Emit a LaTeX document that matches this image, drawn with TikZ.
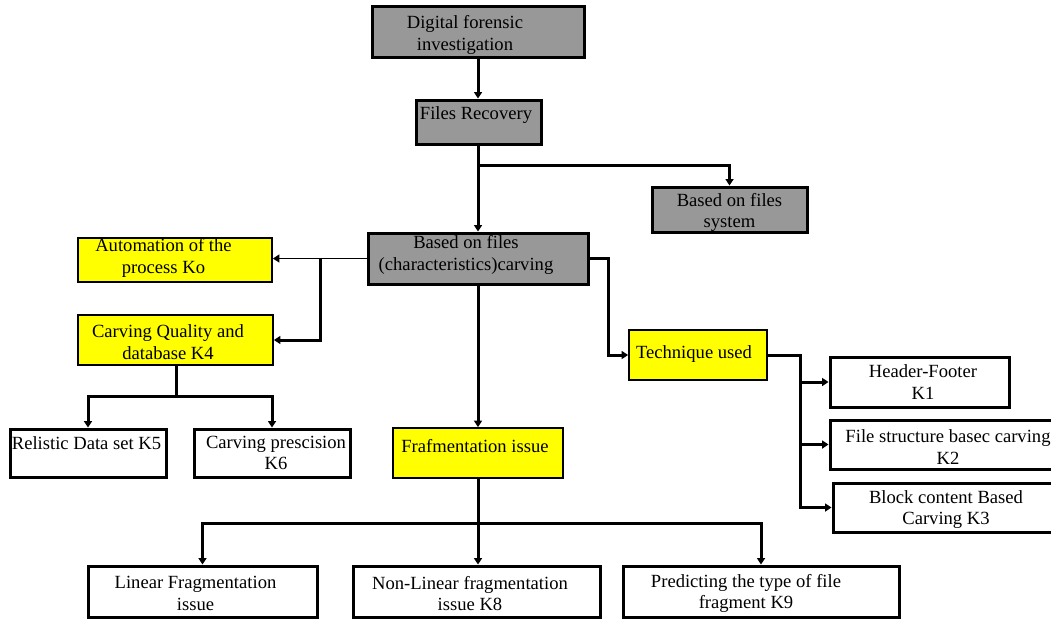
\documentclass[tikz,border=0pt]{standalone}
\usepackage{fontspec}
\setmainfont{Liberation Serif}
\usetikzlibrary{arrows.meta}
\definecolor{boxgray}{HTML}{989898}
\definecolor{boxyellow}{HTML}{FFFF00}
\begin{document}
\begin{tikzpicture}[x=1pt,y=-1pt,
  font=\fontsize{18.6}{21.5}\selectfont,
  base/.style={draw=black,rectangle,inner sep=0pt,anchor=center},
  graybox/.style={base,fill=boxgray,line width=3pt},
  yellowbox/.style={base,fill=boxyellow,line width=1.8pt},
  whitebox/.style={base,fill=white,line width=3pt},
  txt/.style={align=center,inner sep=0pt},
  conn/.style={line width=3pt},
  thinconn/.style={line width=1.8pt},
  arr/.style={-{Triangle[length=6.5pt,width=8pt]}},
]
\useasboundingbox (0,0) rectangle (1051,619);
\fill[white] (0,0) rectangle (1051,619);

% nodes
\node[graybox,minimum width=212pt,minimum height=51pt,
  label={[txt,name=dfi-t,xshift=-13pt,yshift=-3.5pt]center:{Digital forensic\\investigation}}] (dfi) at (478,31.5) {};
\node[graybox,minimum width=125pt,minimum height=44pt,
  label={[txt,name=fr-t,xshift=-2.5pt,yshift=7pt]center:{Files Recovery}}] (fr) at (478.5,122) {};
\node[graybox,minimum width=155pt,minimum height=45pt,
  label={[txt,name=bfs-t,xshift=0pt,yshift=-3pt]center:{Based on files\\system}}] (bfs) at (729.5,209.5) {};
\node[graybox,minimum width=220pt,minimum height=51pt,
  label={[txt,name=bfc-t,xshift=-12pt,yshift=3.5pt]center:{Based on files\\(characteristics)carving}}] (bfc) at (478,258.5) {};

\node[yellowbox,minimum width=194pt,minimum height=44pt,
  label={[txt,name=auto-t,xshift=-11.5pt,yshift=2pt]center:{Automation of the\\process Ko}}] (auto) at (175,260) {};
\node[yellowbox,minimum width=195pt,minimum height=50pt,
  label={[txt,name=cq-t,xshift=-7.5pt,yshift=-2pt]center:{Carving Quality and\\database K4}}] (cq) at (175.5,340) {};
\node[yellowbox,minimum width=170pt,minimum height=50pt,
  label={[txt,name=frag-t,xshift=-3pt,yshift=7pt]center:{Frafmentation issue}}] (frag) at (478,453) {};
\node[yellowbox,minimum width=138pt,minimum height=50pt,
  label={[txt,name=tech-t,xshift=-4pt,yshift=1pt]center:{Technique used}}] (tech) at (698,355) {};

\node[whitebox,minimum width=156pt,minimum height=48pt,
  label={[txt,name=rel-t,xshift=-1.5pt,yshift=10pt]center:{Relistic Data set K5}}] (rel) at (88,453) {};
\node[whitebox,minimum width=156pt,minimum height=48pt,
  label={[txt,name=cp-t,xshift=4pt,yshift=0pt]center:{Carving prescision\\K6}}] (cp) at (272,453) {};

\node[whitebox,minimum width=179pt,minimum height=50pt,
  label={[txt,name=hf-t,xshift=3.5pt,yshift=0pt]center:{Header-Footer\\K1}}] (hf) at (919.5,382) {};
\node[whitebox,minimum width=236pt,minimum height=49pt,
  label={[txt,name=fs-t,xshift=0pt,yshift=-2.5pt]center:{File structure basec carving\\K2}}] (fs) at (948,444.5) {};
\node[whitebox,minimum width=226pt,minimum height=49pt,
  label={[txt,name=bc-t,xshift=0pt,yshift=-2pt]center:{Block content Based\\Carving K3}}] (bc) at (946,507.5) {};

\node[whitebox,minimum width=229pt,minimum height=51pt,
  label={[txt,name=lin-t,xshift=-7pt,yshift=-2pt]center:{Linear Fragmentation\\issue}}] (lin) at (202.5,591.5) {};
\node[whitebox,minimum width=247pt,minimum height=51pt,
  label={[txt,name=nl-t,xshift=-6.5pt,yshift=-2pt]center:{Non-Linear fragmentation\\issue K8}}] (nl) at (476.5,591.5) {};
\node[whitebox,minimum width=276pt,minimum height=51pt,
  label={[txt,name=pred-t,xshift=-15pt,yshift=-2pt]center:{Predicting the type of file\\fragment K9}}] (pred) at (761,591.5) {};

% junction coordinates
\coordinate (j0) at (478,165);
\coordinate (j1) at (320,258.5);
\coordinate (j2) at (608,258.5);
\coordinate (j3) at (176,396);
\coordinate (j4) at (800,355);
\coordinate (j5) at (478,523);

% connectors
\draw[conn,arr] (dfi.south) -- (dfi.south |- fr.north);
\draw[conn,arr] (fr.south -| dfi.south) -- (dfi.south |- bfc.north);
\draw[conn,arr] (j0) -| (bfs.north);
\draw[thinconn,arr] (bfc.west) -- (bfc.west -| auto.east);
\draw[conn,arr] (j1) |- (cq.east);
\draw[conn,arr] (bfc.east) -- (j2) |- (tech.west);
\draw[conn,arr] (bfc.south) -- (frag.north);
\draw[conn,arr] (cq.south -| j3) -- (j3) -| (rel.north);
\draw[conn,arr] (j3) -| (cp.north);
\draw[conn,arr] (tech.east) -- (j4) |- (hf.west);
\draw[conn,arr] (j4) |- (fs.west);
\draw[conn,arr] (j4) |- (bc.west);
\draw[conn,arr] (frag.south) -- (j5 |- nl.north);
\draw[conn,arr] (j5) -| (lin.north);
\draw[conn,arr] (j5) -| (pred.north);
\end{tikzpicture}
\end{document}
